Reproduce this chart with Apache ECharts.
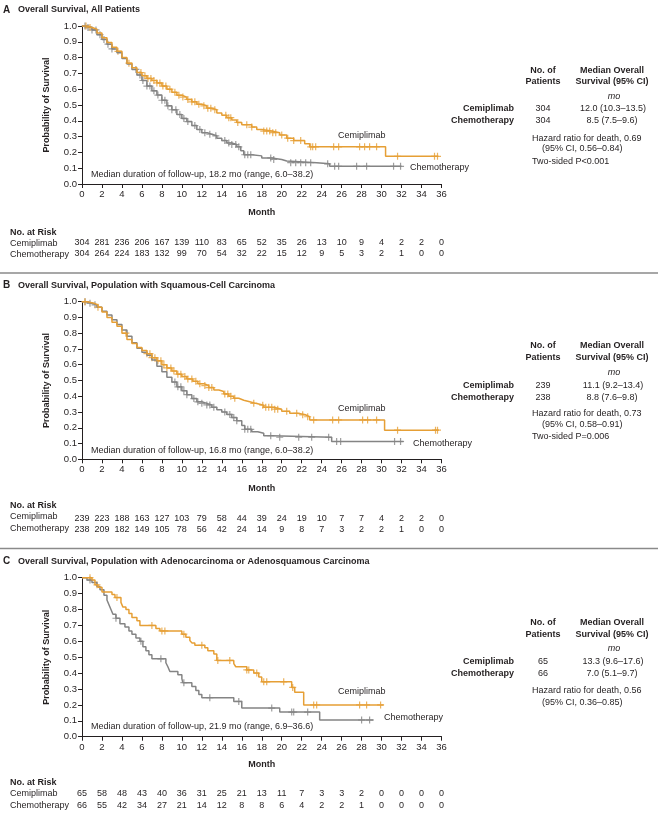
<!DOCTYPE html>
<html><head><meta charset="utf-8">
<script src="https://cdn.jsdelivr.net/npm/echarts@6/dist/echarts.min.js"></script>
<style>html,body{margin:0;padding:0;background:#fff}#c{width:658px;height:819px}</style>
</head><body><div id="c"></div>
<script>
// ---------------- DATA ----------------
const monthTicks = [0,2,4,6,8,10,12,14,16,18,20,22,24,26,28,30,32,34,36];

// Panel A: all patients
const A_cemi_t = [0,0.5,1.0,1.5,2.0,2.5,3.0,3.5,4.0,4.5,5.0,5.5,6.0,6.5,7.0,7.5,8.0,8.5,9.0,9.5,10.0,10.5,11.0,11.5,12.0,12.5,13.0,13.5,14.0,14.5,15.0,15.5,16.0,17.0,17.5,18.0,19.0,19.8,20.5,21.2,22.3,22.8,30.4,35.7];
const A_cemi_s = [1.0,0.99,0.98,0.955,0.925,0.895,0.865,0.84,0.80,0.765,0.735,0.705,0.685,0.668,0.655,0.64,0.62,0.60,0.58,0.562,0.55,0.535,0.52,0.505,0.495,0.48,0.47,0.45,0.435,0.42,0.405,0.39,0.375,0.36,0.345,0.335,0.325,0.31,0.29,0.275,0.255,0.235,0.175,0.175];
const A_cemi_cens = [0.4,0.8,3.6,4.7,5.9,6.3,6.6,6.9,7.2,7.5,7.8,8.1,8.4,8.8,9.3,9.7,10.1,10.6,11.0,11.3,11.7,12.2,12.6,12.9,13.3,14.4,14.7,14.9,15.6,16.5,17.0,18.2,18.5,18.8,19.1,19.4,20.0,20.6,21.2,21.9,22.9,23.1,23.4,25.2,25.7,27.8,28.3,28.8,29.5,31.6,35.3,35.6];
const A_chemo_t = [0,0.5,1.0,1.5,2.0,2.5,3.0,3.5,4.0,4.5,5.0,5.5,6.0,6.5,7.0,7.5,8.0,8.5,9.0,9.5,10.0,10.5,11.0,11.5,12.0,12.5,13.0,13.5,14.0,14.5,15.0,15.5,15.9,16.2,17.0,18.0,19.0,20.0,20.5,23.5,24.8,32.0];
const A_chemo_s = [1.0,0.99,0.975,0.945,0.915,0.885,0.855,0.83,0.795,0.76,0.725,0.69,0.655,0.62,0.59,0.563,0.53,0.495,0.47,0.44,0.415,0.395,0.37,0.345,0.325,0.315,0.305,0.29,0.275,0.26,0.25,0.235,0.21,0.185,0.178,0.165,0.155,0.145,0.135,0.128,0.112,0.112];
const A_chemo_cens = [0.3,0.6,1.0,1.4,1.8,2.2,2.6,3.0,5.4,5.8,6.1,6.5,6.8,7.2,7.6,8.0,8.3,8.6,9.0,9.4,9.8,10.2,10.6,11.3,11.8,12.3,12.8,13.4,14.3,14.7,15.0,15.4,15.7,16.3,16.6,16.9,18.9,19.2,20.9,21.4,21.9,22.4,22.9,24.6,25.3,25.7,27.5,28.5,31.2,31.9];
const A_risk_cemi  = [304,281,236,206,167,139,110,83,65,52,35,26,13,10,9,4,2,2,0];
const A_risk_chemo = [304,264,224,183,132,99,70,54,32,22,15,12,9,5,3,2,1,0,0];

// Panel B: squamous-cell carcinoma
const B_cemi_t = [0,0.5,1.2,1.6,2.0,2.5,3.0,3.5,4.0,4.5,5.0,5.5,6.0,6.5,7.0,7.5,8.0,8.5,9.0,9.5,10.0,10.5,11.1,11.6,12.2,12.7,13.2,13.7,14.2,14.7,15.2,15.7,16.2,16.8,17.4,18.2,19.2,20.0,20.8,21.6,22.4,22.8,30.3,35.7];
const B_cemi_s = [1.0,0.99,0.98,0.965,0.935,0.90,0.87,0.845,0.80,0.76,0.735,0.71,0.69,0.67,0.645,0.625,0.60,0.58,0.56,0.54,0.525,0.51,0.495,0.48,0.468,0.455,0.44,0.43,0.415,0.40,0.387,0.375,0.365,0.355,0.343,0.33,0.318,0.305,0.292,0.282,0.27,0.25,0.185,0.185];
const B_cemi_cens = [0.3,1.6,4.4,6.5,6.8,7.0,7.3,7.6,7.9,8.2,8.5,8.9,9.2,9.6,9.9,10.3,10.6,11.0,11.4,11.8,12.3,12.7,13.0,14.3,14.6,14.9,15.3,17.2,18.1,18.4,18.7,19.0,19.3,19.6,20.5,21.5,22.1,22.6,23.2,25.1,25.7,28.1,28.6,29.5,31.6,35.4,35.6];
const B_chemo_t = [0,0.5,1.0,1.5,2.0,2.5,3.0,3.5,4.0,4.5,5.0,5.5,6.0,6.5,7.0,7.5,8.0,8.5,9.0,9.5,10.0,10.5,11.0,11.5,12.0,12.5,13.0,13.5,14.0,14.5,15.0,15.5,16.0,16.3,17.0,17.6,18.2,19.0,25.0,32.2];
const B_chemo_s = [1.0,0.99,0.98,0.965,0.94,0.915,0.885,0.855,0.82,0.78,0.74,0.705,0.68,0.66,0.63,0.59,0.555,0.52,0.49,0.46,0.435,0.41,0.385,0.365,0.355,0.345,0.33,0.315,0.30,0.285,0.265,0.245,0.215,0.19,0.175,0.165,0.15,0.14,0.113,0.113];
const B_chemo_cens = [0.3,0.8,1.3,9.3,9.6,9.9,10.2,10.5,11.2,11.6,12.0,12.5,12.8,13.2,14.3,14.8,15.2,15.5,16.3,16.6,16.9,18.9,19.8,21.7,23.0,24.7,25.5,25.9,31.3,31.9];
const B_risk_cemi  = [239,223,188,163,127,103,79,58,44,39,24,19,10,7,7,4,2,2,0];
const B_risk_chemo = [238,209,182,149,105,78,56,42,24,14,9,8,7,3,2,2,1,0,0];

// Panel C: adenocarcinoma or adenosquamous carcinoma
const C_cemi_t = [0,1.0,1.3,1.6,2.0,3.0,3.3,3.9,4.1,4.4,4.7,5.0,5.5,5.8,7.4,7.8,10.0,10.4,10.8,11.0,11.3,12.3,12.6,13.2,13.5,15.2,15.4,16.5,17.2,17.7,18.0,21.0,21.3,22.2,30.2];
const C_cemi_s = [1.0,0.985,0.955,0.94,0.91,0.895,0.875,0.845,0.815,0.80,0.775,0.75,0.73,0.70,0.68,0.665,0.645,0.625,0.605,0.59,0.575,0.56,0.54,0.52,0.48,0.46,0.44,0.42,0.40,0.375,0.345,0.31,0.28,0.20,0.20];
const C_cemi_cens = [0.8,1.5,3.5,7.0,8.0,8.3,10.2,12.0,13.6,14.8,16.5,16.7,17.5,18.2,18.5,20.2,21.1,23.2,23.5,27.8,28.5,29.9];
const C_chemo_t = [0,0.5,1.0,1.5,1.8,2.2,2.5,2.7,2.9,3.1,3.4,3.8,4.3,4.7,5.0,5.4,5.8,6.1,6.4,6.7,7.0,8.4,8.6,8.8,9.6,10.0,10.1,11.0,11.4,11.7,12.0,15.2,16.0,19.8,23.8,29.2];
const C_chemo_s = [1.0,0.985,0.97,0.945,0.925,0.89,0.86,0.83,0.80,0.77,0.745,0.71,0.69,0.665,0.645,0.62,0.60,0.565,0.54,0.515,0.49,0.465,0.44,0.41,0.39,0.365,0.34,0.315,0.29,0.265,0.245,0.222,0.18,0.155,0.105,0.105];
const C_chemo_cens = [0.8,3.4,5.9,7.9,10.2,12.8,15.7,19.0,21.0,21.2,22.6,28.0,28.8];
const C_risk_cemi  = [65,58,48,43,40,36,31,25,21,13,11,7,3,3,2,0,0,0,0];
const C_risk_chemo = [66,55,42,34,27,21,14,12,8,8,6,4,2,2,1,0,0,0,0];

// ---------------- STYLE / LAYOUT ----------------
const FONT = '"Liberation Sans", Arial, sans-serif';
const INK = '#231F20';
const ORANGE = '#E69F35';
const GRAY = '#848484';
const PLUS = 'path://M5,0L5,10M0,5L10,5';

const panels = [
  { letter:'A', title:'Overall Survival, All Patients', titleY:10, top:26, h:158,
    tickM:5.5, monthY:212.7, narY:232.3, r1M:54.3, r2M:65.5,
    cemi:[A_cemi_t,A_cemi_s,A_cemi_cens], chemo:[A_chemo_t,A_chemo_s,A_chemo_cens], risk:[A_risk_cemi,A_risk_chemo],
    fu:'Median duration of follow-up, 18.2 mo (range, 6.0–38.2)', fuY:174.3,
    lblC:[338,136], lblH:[410,167.7],
    tab:{h1:70.7,h2:82,mo:96,r1:109,r2:121,hr:[138.3,149,161.7]},
    n:['304','304'], med:['12.0 (10.3–13.5)','8.5 (7.5–9.6)'],
    hr:['Hazard ratio for death, 0.69','(95% CI, 0.56–0.84)','Two-sided P<0.001'] },
  { letter:'B', title:'Overall Survival, Population with Squamous-Cell Carcinoma', titleY:285.7, top:301.7, h:157.6,
    tickM:5.2, monthY:488.3, narY:506, r1M:54.7, r2M:65.7,
    cemi:[B_cemi_t,B_cemi_s,B_cemi_cens], chemo:[B_chemo_t,B_chemo_s,B_chemo_cens], risk:[B_risk_cemi,B_risk_chemo],
    fu:'Median duration of follow-up, 16.8 mo (range, 6.0–38.2)', fuY:450.7,
    lblC:[338,408.3], lblH:[413,444],
    tab:{h1:345.7,h2:357.3,mo:372.3,r1:385.7,r2:397.7,hr:[414,425,436.7]},
    n:['239','238'], med:['11.1 (9.2–13.4)','8.8 (7.6–9.8)'],
    hr:['Hazard ratio for death, 0.73','(95% CI, 0.58–0.91)','Two-sided P=0.006'] },
  { letter:'C', title:'Overall Survival, Population with Adenocarcinoma or Adenosquamous Carcinoma', titleY:561.7, top:577.7, h:159,
    tickM:5.9, monthY:764.3, narY:782.7, r1M:52.6, r2M:64,
    cemi:[C_cemi_t,C_cemi_s,C_cemi_cens], chemo:[C_chemo_t,C_chemo_s,C_chemo_cens], risk:[C_risk_cemi,C_risk_chemo],
    fu:'Median duration of follow-up, 21.9 mo (range, 6.9–36.6)', fuY:726.7,
    lblC:[338,691.7], lblH:[384,717.7],
    tab:{h1:622.3,h2:634.3,mo:648,r1:661.7,r2:673.7,hr:[690.7,702.3]},
    n:['65','66'], med:['13.3 (9.6–17.6)','7.0 (5.1–9.7)'],
    hr:['Hazard ratio for death, 0.56','(95% CI, 0.36–0.85)'] }
];

const GL = 82, GW = 359.5;

function stepAt(ts, ss, t) {
  let v = ss[0];
  for (let i = 0; i < ts.length; i++) if (ts[i] <= t) v = ss[i];
  return v;
}
function T(x, y, text, o) {
  o = o || {};
  const al = o.align || 'left';
  return { type:'text', x:x, y:y, rotation:o.rot||0, silent:true, z:10,
    style:{ text:text, fill:o.color||INK,
      font:(o.italic?'italic ':'')+(o.bold?'bold ':'')+(o.size||9)+'px '+FONT,
      textAlign:al, textVerticalAlign:'middle', align:al, verticalAlign:'middle' } };
}

const grids = [], xAxes = [], yAxes = [], series = [], graphics = [];

panels.forEach(function (p, g) {
  grids.push({ left:GL, top:p.top, width:GW, height:p.h });
  const axisBase = { type:'value', gridIndex:g, min:0, max:36, interval:2, position:'bottom' };
  xAxes.push(Object.assign({}, axisBase, {
    axisLine:{ show:true, lineStyle:{ color:INK, width:1 } },
    axisTick:{ show:true, length:4, lineStyle:{ color:INK } },
    splitLine:{ show:false },
    axisLabel:{ margin:p.tickM, fontSize:9.5, fontFamily:FONT, color:INK }
  }));
  const xMain = xAxes.length - 1;
  [p.r1M, p.r2M].forEach(function (m, k) {
    const arr = p.risk[k];
    xAxes.push(Object.assign({}, axisBase, {
      axisLine:{ show:false }, axisTick:{ show:false }, splitLine:{ show:false },
      axisLabel:{ margin:m, fontSize:9, fontFamily:FONT, color:INK,
        formatter:function (v) { const i = monthTicks.indexOf(v); return i < 0 ? '' : String(arr[i]); } }
    }));
  });
  yAxes.push({ type:'value', gridIndex:g, min:0, max:1, interval:0.1,
    axisLine:{ show:true, lineStyle:{ color:INK, width:1 } },
    axisTick:{ show:true, length:4, lineStyle:{ color:INK } },
    splitLine:{ show:false },
    axisLabel:{ margin:5, fontSize:9.5, fontFamily:FONT, color:INK, formatter:function (v) { return v.toFixed(1); } }
  });

  [[p.chemo, GRAY], [p.cemi, ORANGE]].forEach(function (c) {
    const ts = c[0][0], ss = c[0][1], cens = c[0][2], col = c[1];
    series.push({ type:'line', xAxisIndex:xMain, yAxisIndex:g, step:'end', showSymbol:false, silent:true,
      data: ts.map(function (t, i) { return [t, ss[i]]; }),
      lineStyle:{ color:col, width:1.5 }, animation:false });
    series.push({ type:'scatter', xAxisIndex:xMain, yAxisIndex:g, silent:true, symbol:PLUS, symbolSize:7,
      data: cens.map(function (t) { return [t, stepAt(ts, ss, t)]; }),
      itemStyle:{ color:'rgba(0,0,0,0)', borderColor:col, borderWidth:1.2 }, animation:false });
  });

  // texts
  graphics.push(T(3, p.titleY, p.letter, { bold:true, size:10 }));
  graphics.push(T(18, p.titleY, p.title, { bold:true }));
  graphics.push(T(47, p.top + p.h / 2, 'Probability of Survival', { bold:true, rot:Math.PI/2, align:'center' }));
  graphics.push(T(GL + GW / 2, p.monthY, 'Month', { bold:true, align:'center' }));
  graphics.push(T(10, p.narY, 'No. at Risk', { bold:true }));
  graphics.push(T(10, p.narY + 11, 'Cemiplimab'));
  graphics.push(T(10, p.narY + 22.5, 'Chemotherapy'));
  graphics.push(T(91, p.fuY, p.fu));
  graphics.push(T(p.lblC[0], p.lblC[1], 'Cemiplimab'));
  graphics.push(T(p.lblH[0], p.lblH[1], 'Chemotherapy'));
  // right-hand table
  const tb = p.tab;
  graphics.push(T(543, tb.h1, 'No. of', { bold:true, align:'center' }));
  graphics.push(T(543, tb.h2, 'Patients', { bold:true, align:'center' }));
  graphics.push(T(612, tb.h1, 'Median Overall', { bold:true, align:'center' }));
  graphics.push(T(612, tb.h2, 'Survival (95% CI)', { bold:true, align:'center' }));
  graphics.push(T(614, tb.mo, 'mo', { italic:true, align:'center' }));
  graphics.push(T(514, tb.r1, 'Cemiplimab', { bold:true, align:'right' }));
  graphics.push(T(514, tb.r2, 'Chemotherapy', { bold:true, align:'right' }));
  graphics.push(T(543, tb.r1, p.n[0], { align:'center' }));
  graphics.push(T(543, tb.r2, p.n[1], { align:'center' }));
  graphics.push(T(613, tb.r1, p.med[0], { align:'center' }));
  graphics.push(T(612, tb.r2, p.med[1], { align:'center' }));
  p.hr.forEach(function (s, i) { graphics.push(T(i === 1 ? 542 : 532, tb.hr[i], s)); });
});

// separators between panels
[273, 548.5].forEach(function (y) {
  graphics.push({ type:'line', silent:true, shape:{ x1:0, y1:y, x2:658, y2:y }, style:{ stroke:'#8a8a8a', lineWidth:1.5 } });
});

const chart = echarts.init(document.getElementById('c'), null, { renderer:'canvas' });
chart.setOption({
  animation:false,
  backgroundColor:'#ffffff',
  grid:grids, xAxis:xAxes, yAxis:yAxes, series:series, graphic:graphics
});
</script>
</body></html>
